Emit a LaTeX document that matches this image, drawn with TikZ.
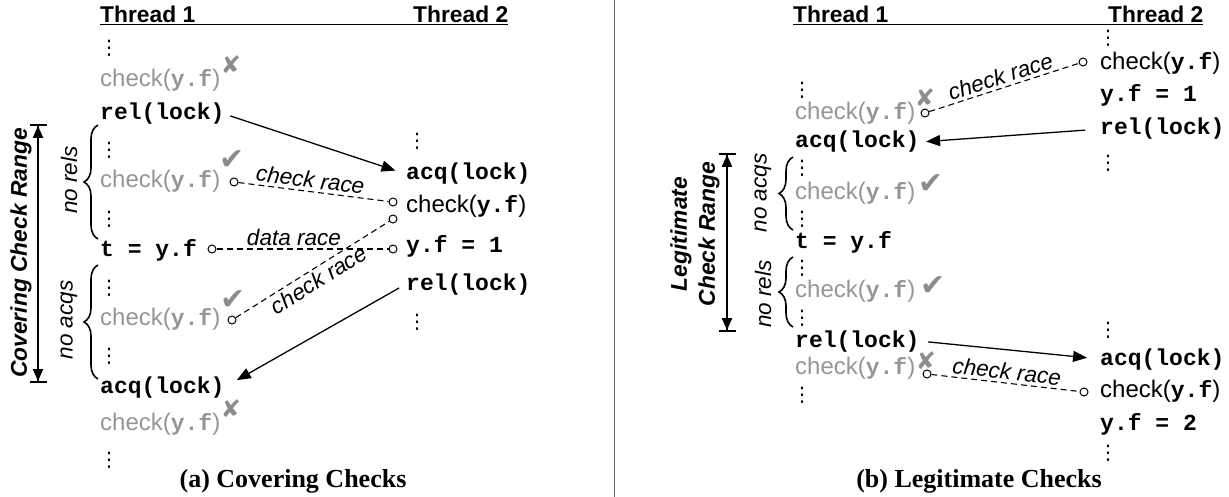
\documentclass[tikz,border=0pt]{standalone}
\usepackage{fontspec}
\setmainfont{Liberation Serif}
\setsansfont{Liberation Sans}
\setmonofont{Liberation Mono}
\newfontfamily\symfont{DejaVu Sans}
\usetikzlibrary{arrows.meta,decorations.pathreplacing}
\definecolor{gtxt}{RGB}{150,150,150}
\definecolor{gmark}{RGB}{140,140,140}
\definecolor{seprule}{RGB}{110,110,110}
\newcommand\myCode{\fontsize{23}{25}\selectfont\ttfamily\bfseries}
\newcommand\mySans{\fontsize{24}{26}\selectfont\sffamily\mdseries}
\newcommand\myHead{\fontsize{22.8}{26}\selectfont\sffamily\bfseries}
\newcommand\myRange{\fontsize{22.8}{28}\selectfont\sffamily\bfseries\itshape}
\newcommand\myLab{\fontsize{22.5}{24}\selectfont\sffamily\itshape}
\newcommand\myCap{\fontsize{26}{28}\selectfont\rmfamily\bfseries}
\newcommand\chktxt{{\mySans check(}{\myCode y.f}{\mySans)}}
\newcommand\vdt{\fontsize{20}{20}\selectfont\symfont ⋮}
\begin{document}
\begin{tikzpicture}[x=1pt,y=-1pt,
  cd/.style={anchor=base west, inner sep=0pt, font=\myCode},
  gchk/.style={anchor=base west, inner sep=0pt, text=gtxt},
  bchk/.style={anchor=base west, inner sep=0pt},
  vd/.style={inner sep=0pt},
  okmark/.style={inner sep=0pt, text=gmark, font=\fontsize{30}{30}\selectfont\symfont},
  nomark/.style={inner sep=0pt, text=gmark, font=\fontsize{24}{24}\selectfont\symfont},
  hd/.style={anchor=base west, inner sep=0pt, font=\myHead},
  uline/.style={line width=1.4pt},
  pt/.style={circle, draw, minimum size=8pt, inner sep=0pt, line width=1pt, fill=white},
  race/.style={line width=1.1pt, dash pattern=on 6pt off 4pt},
  arr/.style={line width=1.3pt, -{Triangle[length=14pt,width=11pt]}},
  rng/.style={line width=1.8pt, {Bar[width=17pt] Triangle[length=12pt,width=10pt]}-{Triangle[length=12pt,width=10pt] Bar[width=17pt]}},
  brc/.style={decorate, decoration={brace, amplitude=14pt}, line width=1.6pt},
  lab/.style={font=\myLab, inner sep=3pt},
  sidelab/.style={font=\myLab, rotate=90, inner sep=0pt},
  rlab/.style={font=\myRange, rotate=90, inner sep=0pt, align=center},
  captxt/.style={anchor=base, font=\myCap, inner sep=0pt}]
\useasboundingbox (0,0) rectangle (1229,497);

% separator
\coordinate (s1) at (614,0);
\coordinate (s2) at (614,497);
\draw[seprule, line width=1pt] (s1) -- (s2);

% ===== Panel (a) =====
\node[hd] (ha1) at (100,22.5) {Thread 1};
\node[hd] (ha2) at (413,22.5) {Thread 2};
\draw[uline] ([yshift=-2pt]ha1.base west) -- ([yshift=-2pt]ha2.base east);

% thread 1
\node[vd] (ad1) at (109,48) {\vdt};
\node[gchk] (ac1) at (100,87) {\chktxt};
\node[cd] (ar1) at (100,120) {rel(lock)};
\node[vd] (ad2) at (109,150) {\vdt};
\node[gchk] (ac2) at (100,188) {\chktxt};
\node[vd] (ad3) at (109,219) {\vdt};
\node[cd] (at1) at (100,256) {t = y.f};
\node[vd] (ad4) at (109,288) {\vdt};
\node[gchk] (ac3) at (100,325) {\chktxt};
\node[vd] (ad5) at (109,356) {\vdt};
\node[cd] (aa1) at (100,393) {acq(lock)};
\node[gchk] (ac4) at (100,430) {\chktxt};
\node[vd] (ad6) at (109,460) {\vdt};

\node[nomark] (am1) at (231,65) {✘};
\node[okmark] (am2) at (232,160) {✔};
\node[okmark] (am3) at (233,300) {✔};
\node[nomark] (am4) at (231,409) {✘};

% thread 2
\node[vd] (a2d1) at (417,141) {\vdt};
\node[cd] (a2a) at (406,180) {acq(lock)};
\node[bchk] (a2c) at (406,213) {\chktxt};
\node[cd] (a2y) at (406,252) {y.f = 1};
\node[cd] (a2r) at (406,290) {rel(lock)};
\node[vd] (a2d2) at (417,322) {\vdt};

% race points
\node[pt] (ca1) at (234,182) {};
\node[pt] (ca2) at (393,202) {};
\node[pt] (ca3) at (393,219) {};
\node[pt] (ca4) at (393,249) {};
\node[pt] (ca5) at (212,249) {};
\node[pt] (ca6) at (232,320) {};
\draw[race] (ca1) -- node[lab, above, sloped, pos=0.47] {check race} (ca2);
\draw[race] (ca5) -- node[lab, above, pos=0.45] {data race} (ca4);
\draw[race] (ca6) -- node[lab, below, sloped] {check race} (ca3);

% sync arrows
\draw[arr, shorten <=6pt, shorten >=11pt] (ar1.east) -- (a2a.west);
\draw[arr, shorten <=8pt, shorten >=14pt] (a2r.west) -- (aa1.east);

% braces and range
\draw[brc] (98,239) -- (98,125);
\draw[brc] (98,379) -- (98,265);
\node[sidelab] (anr) at (69,180) {no rels};
\node[sidelab] (ana) at (69,320) {no acqs};
\coordinate (ra1) at (38,124);
\coordinate (ra2) at (38,383);
\draw[rng] (ra2) -- (ra1);
\node[rlab] (arl) at (21,253) {Covering Check Range};

\node[captxt] (capa) at (293,487) {(a) Covering Checks};

% ===== Panel (b) =====
\node[hd] (hb1) at (793,22.5) {Thread 1};
\node[hd] (hb2) at (1108,22.5) {Thread 2};
\draw[uline] ([yshift=-2pt]hb1.base west) -- ([yshift=-2pt]hb2.base east);

% thread 1
\node[vd] (b1d1) at (802,90) {\vdt};
\node[gchk] (b1c1) at (795,120) {\chktxt};
\node[cd] (b1a) at (795,148) {acq(lock)};
\node[vd] (b1d2) at (802,168) {\vdt};
\node[gchk] (b1c2) at (795,200) {\chktxt};
\node[vd] (b1d3) at (802,219) {\vdt};
\node[cd] (b1t) at (795,248) {t = y.f};
\node[vd] (b1d4) at (802,268) {\vdt};
\node[gchk] (b1c3) at (795,297) {\chktxt};
\node[vd] (b1d5) at (802,318) {\vdt};
\node[cd] (b1r) at (795,347) {rel(lock)};
\node[gchk] (b1c4) at (795,374) {\chktxt};
\node[vd] (b1d6) at (802,395) {\vdt};

\node[nomark] (bm1) at (925,98) {✘};
\node[okmark] (bm2) at (931,184) {✔};
\node[okmark] (bm3) at (933,286) {✔};
\node[nomark] (bm4) at (926,361) {✘};

% thread 2
\node[vd] (b2d1) at (1108,38) {\vdt};
\node[bchk] (b2c1) at (1100,70) {\chktxt};
\node[cd] (b2y1) at (1100,102) {y.f = 1};
\node[cd] (b2r) at (1100,135) {rel(lock)};
\node[vd] (b2d2) at (1108,163) {\vdt};
\node[vd] (b2d3) at (1108,330) {\vdt};
\node[cd] (b2a) at (1100,365) {acq(lock)};
\node[bchk] (b2c2) at (1100,397) {\chktxt};
\node[cd] (b2y2) at (1100,430) {y.f = 2};
\node[vd] (b2d4) at (1108,453) {\vdt};

% race points
\node[pt] (cb1) at (925,113) {};
\node[pt] (cb2) at (1083,62) {};
\node[pt] (cb3) at (927,374) {};
\node[pt] (cb4) at (1084,392) {};
\draw[race] (cb1) -- node[lab, above, sloped] {check race} (cb2);
\draw[race] (cb3) -- node[lab, above, sloped] {check race} (cb4);

% sync arrows
\draw[arr, shorten <=15pt, shorten >=6.5pt] (b2r.west) -- (b1a.east);
\draw[arr, shorten <=8.5pt, shorten >=13pt] (b1r.east) -- (b2a.west);

% braces and range
\draw[brc] (793,230) -- (793,157);
\draw[brc] (793,327) -- (793,257);
\node[sidelab] (bna) at (763,193) {no acqs};
\node[sidelab] (bnr) at (763,294) {no rels};
\coordinate (rb1) at (727,153);
\coordinate (rb2) at (727,332);
\draw[rng] (rb2) -- (rb1);
\node[rlab] (brl) at (695,234) {Legitimate\\Check Range};

\node[captxt] (capb) at (979,487) {(b) Legitimate Checks};
\end{tikzpicture}
\end{document}
